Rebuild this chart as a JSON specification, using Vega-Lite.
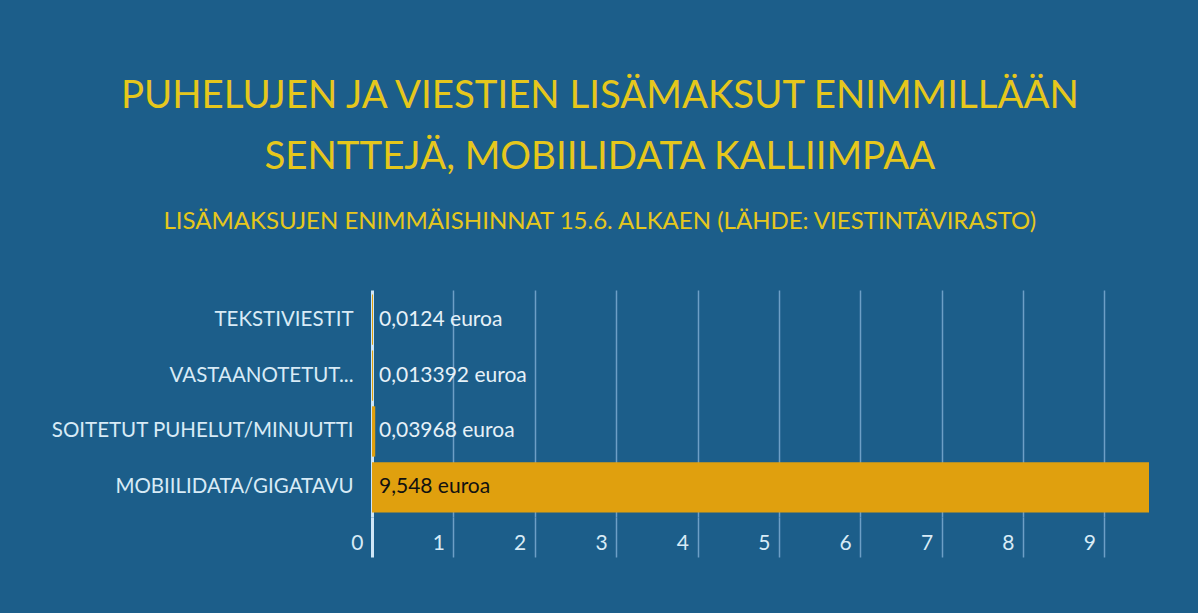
{
  "$schema": "https://vega.github.io/schema/vega-lite/v6.json",
  "width": 777,
  "height": 227,
  "autosize": {"type": "none"},
  "padding": {"left": 372, "top": 290, "right": 49, "bottom": 96},
  "background": "#1c5e8a",
  "title": {
    "text": ["PUHELUJEN JA VIESTIEN LISÄMAKSUT ENIMMILLÄÄN", "SENTTEJÄ, MOBIILIDATA KALLIIMPAA"],
    "subtitle": "LISÄMAKSUJEN ENIMMÄISHINNAT 15.6. ALKAEN (LÄHDE: VIESTINTÄVIRASTO)",
    "anchor": "middle",
    "frame": "bounds",
    "font": "Lato",
    "fontSize": 38.4,
    "fontWeight": "normal",
    "lineHeight": 61,
    "color": "#e6c71c",
    "subtitleFont": "Lato",
    "subtitleFontSize": 24,
    "subtitleColor": "#e6c71c",
    "subtitlePadding": 33,
    "offset": 55
  },
  "data": {
    "values": [
      {"category": "TEKSTIVIESTIT", "value": 0.0124, "label": "0,0124 euroa"},
      {"category": "VASTAANOTETUT...", "value": 0.013392, "label": "0,013392 euroa"},
      {"category": "SOITETUT PUHELUT/MINUUTTI", "value": 0.03968, "label": "0,03968 euroa"},
      {"category": "MOBIILIDATA/GIGATAVU", "value": 9.548, "label": "9,548 euroa"}
    ]
  },
  "encoding": {
    "y": {
      "field": "category",
      "type": "nominal",
      "sort": null,
      "title": null,
      "scale": {"paddingInner": 0.1, "paddingOuter": 0.08},
      "axis": {
        "domain": false,
        "ticks": false,
        "labelPadding": 19,
        "labelFont": "Lato",
        "labelFontSize": 20.5,
        "labelColor": "#d8ebf6",
        "labelLimit": 400
      }
    },
    "x": {
      "field": "value",
      "type": "quantitative",
      "title": null,
      "scale": {"domain": [0, 9.548], "nice": false},
      "axis": {
        "values": [0, 1, 2, 3, 4, 5, 6, 7, 8, 9],
        "domain": false,
        "grid": true,
        "gridColor": {"condition": {"test": "datum.value === 0", "value": "#cfe6f6"}, "value": "#6d9fc6"},
        "gridWidth": {"condition": {"test": "datum.value === 0", "value": 3}, "value": 1.5},
        "tickColor": {"condition": {"test": "datum.value === 0", "value": "#cfe6f6"}, "value": "#6d9fc6"},
        "tickWidth": {"condition": {"test": "datum.value === 0", "value": 3}, "value": 1.5},
        "tickSize": 40,
        "labelAlign": "right",
        "labelBaseline": "middle",
        "labelOffset": -9,
        "labelPadding": -14,
        "labelFont": "Lato",
        "labelFontSize": 21,
        "labelColor": "#d8ebf6"
      }
    }
  },
  "layer": [
    {"mark": {"type": "bar", "color": "#e0a00e"}},
    {
      "mark": {"type": "text", "align": "left", "baseline": "middle", "dx": 7, "font": "Lato", "fontSize": 21},
      "encoding": {
        "x": {"datum": 0},
        "text": {"field": "label"},
        "color": {"condition": {"test": "datum.value > 1", "value": "#111111"}, "value": "#e6f1f8"}
      }
    }
  ],
  "config": {
    "view": {"stroke": null}
  }
}
